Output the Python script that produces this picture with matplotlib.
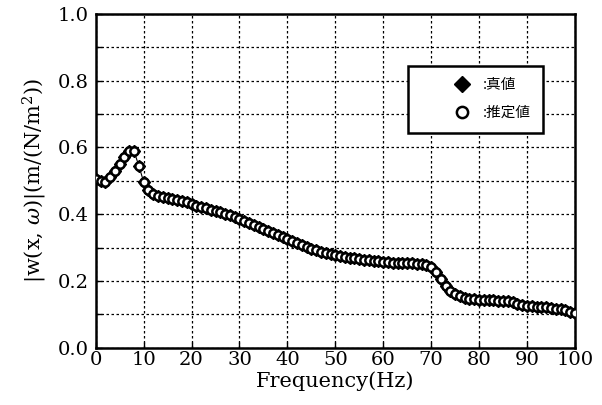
import matplotlib.pyplot as plt
from matplotlib.ticker import MultipleLocator

# frequency (Hz) and response magnitude
freq = list(range(0, 101))
w_true = [0.505, 0.500, 0.498, 0.510, 0.530, 0.550, 0.570, 0.588, 0.588, 0.545,
          0.497, 0.473, 0.460, 0.455, 0.452, 0.449, 0.447, 0.444, 0.440, 0.436,
          0.430, 0.426, 0.422, 0.418, 0.414, 0.410, 0.406, 0.402, 0.398, 0.392,
          0.386, 0.380, 0.374, 0.368, 0.362, 0.356, 0.350, 0.344, 0.338, 0.332,
          0.327, 0.321, 0.315, 0.309, 0.303, 0.297, 0.292, 0.288, 0.284, 0.281,
          0.278, 0.275, 0.272, 0.270, 0.268, 0.266, 0.264, 0.262, 0.260, 0.259,
          0.257, 0.256, 0.255, 0.254, 0.254, 0.253, 0.253, 0.252, 0.251, 0.248,
          0.242, 0.228, 0.205, 0.185, 0.170, 0.160, 0.154, 0.150, 0.147, 0.145,
          0.144, 0.143, 0.142, 0.142, 0.141, 0.140, 0.139, 0.136, 0.132, 0.129,
          0.126, 0.124, 0.123, 0.122, 0.121, 0.119, 0.117, 0.115, 0.112, 0.108,
          0.104]
w_est = [0.505, 0.500, 0.498, 0.510, 0.530, 0.550, 0.570, 0.588, 0.588, 0.545,
         0.497, 0.473, 0.460, 0.455, 0.452, 0.449, 0.447, 0.444, 0.440, 0.436,
         0.430, 0.426, 0.422, 0.418, 0.414, 0.410, 0.406, 0.402, 0.398, 0.392,
         0.386, 0.380, 0.374, 0.368, 0.362, 0.356, 0.350, 0.344, 0.338, 0.332,
         0.327, 0.321, 0.315, 0.309, 0.303, 0.297, 0.292, 0.288, 0.284, 0.281,
         0.278, 0.275, 0.272, 0.270, 0.268, 0.266, 0.264, 0.262, 0.260, 0.259,
         0.257, 0.256, 0.255, 0.254, 0.254, 0.253, 0.253, 0.252, 0.251, 0.248,
         0.242, 0.228, 0.205, 0.185, 0.170, 0.160, 0.154, 0.150, 0.147, 0.145,
         0.144, 0.143, 0.142, 0.142, 0.141, 0.140, 0.139, 0.136, 0.132, 0.129,
         0.126, 0.124, 0.123, 0.122, 0.121, 0.119, 0.117, 0.115, 0.112, 0.108,
         0.104]

plt.rcParams['font.family'] = ['DejaVu Serif', 'Noto Sans CJK JP']
plt.rcParams['mathtext.fontset'] = 'dejavuserif'

fig = plt.figure(figsize=(6.02, 4.05), dpi=100)
ax = fig.add_axes([0.159, 0.141, 0.796, 0.825])

ax.plot(freq, w_true, color='black', lw=0.8, marker='D', ms=6,
        mfc='black', mec='black', label=':真値', zorder=3)
ax.plot(freq, w_est, color='black', lw=0, marker='o', ms=6,
        mfc='white', mec='black', mew=1.8, label=':推定値', zorder=4)

ax.set_xlim(0, 100)
ax.set_ylim(0, 1.0)
ax.xaxis.set_major_locator(MultipleLocator(10))
ax.yaxis.set_major_locator(MultipleLocator(0.2))
ax.yaxis.set_minor_locator(MultipleLocator(0.1))
ax.set_yticklabels([f'{v:.1f}' for v in ax.get_yticks()])
ax.tick_params(axis='both', which='both', direction='in', labelsize=14,
               length=4, width=1)
ax.tick_params(axis='x', pad=2)
ax.tick_params(axis='y', pad=5)
ax.grid(True, which='both', color='black', linestyle=(0, (2, 2)), lw=0.9)

for s in ax.spines.values():
    s.set_linewidth(1.8)

ax.set_xlabel('Frequency(Hz)', fontsize=15, labelpad=2)
ax.set_ylabel(r'|w(x, $\omega$)|(m/(N/m$^2$))', fontsize=15, labelpad=6)

leg = ax.legend(loc='upper left', bbox_to_anchor=(0.652, 0.844),
                fancybox=False, framealpha=1, edgecolor='black',
                prop={'family': ['Noto Sans CJK JP'], 'size': 10.5},
                handlelength=5.75, handletextpad=-1.5, borderpad=0.85,
                borderaxespad=0, labelspacing=0.95, markerscale=1.35)
leg.get_frame().set_linewidth(1.8)
for h in leg.legend_handles:
    h.set_linestyle('')

fig.savefig('out.png', dpi=100)
